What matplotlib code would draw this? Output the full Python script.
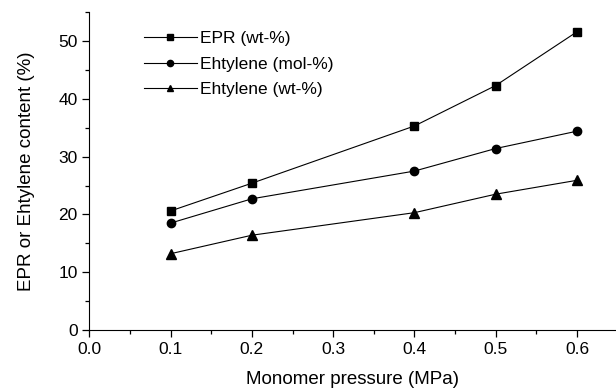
import numpy as np
import matplotlib
matplotlib.use("Agg")
import matplotlib.pyplot as plt
from matplotlib.ticker import MultipleLocator

plt.rcParams['font.family'] = ['Liberation Sans', 'DejaVu Sans']

pressure = [0.1, 0.2, 0.4, 0.5, 0.6]
epr_wt = [20.6, 25.4, 35.3, 42.3, 51.6]
eth_mol = [18.5, 22.7, 27.5, 31.4, 34.4]
eth_wt = [13.2, 16.4, 20.3, 23.5, 25.9]

fig = plt.figure(figsize=(6.16, 3.91), dpi=100)
ax = fig.add_axes([0.145, 0.156, 0.855, 0.813])

ax.plot(pressure, epr_wt, color="k", lw=0.8, marker="s", ms=5.5, label="EPR (wt-%)")
ax.plot(pressure, eth_mol, color="k", lw=0.8, marker="o", ms=6, label="Ehtylene (mol-%)")
ax.plot(pressure, eth_wt, color="k", lw=0.8, marker="^", ms=6.5, label="Ehtylene (wt-%)")

ax.set_xlim(0.0, 0.648)
ax.set_ylim(0, 55)
ax.xaxis.set_major_locator(MultipleLocator(0.1))
ax.xaxis.set_minor_locator(MultipleLocator(0.05))
ax.yaxis.set_major_locator(MultipleLocator(10))
ax.yaxis.set_minor_locator(MultipleLocator(5))
ax.xaxis.set_major_formatter(matplotlib.ticker.FormatStrFormatter('%.1f'))

ax.spines['top'].set_visible(False)
ax.spines['right'].set_visible(False)
ax.tick_params(which='major', direction='out', length=5, width=0.9, labelsize=12.5)
ax.tick_params(which='minor', direction='out', length=3, width=0.9)

ax.set_xlabel("Monomer pressure (MPa)", fontsize=13.5, labelpad=10)
ax.set_ylabel("EPR or Ehtylene content (%)", fontsize=13.5, labelpad=17)

ax.legend(loc='upper left', bbox_to_anchor=(0.075, 0.99), frameon=False, fontsize=12.5,
          handlelength=3.0, handletextpad=0.2, labelspacing=0.6, markerscale=0.75)

fig.savefig("out.png", dpi=100)
